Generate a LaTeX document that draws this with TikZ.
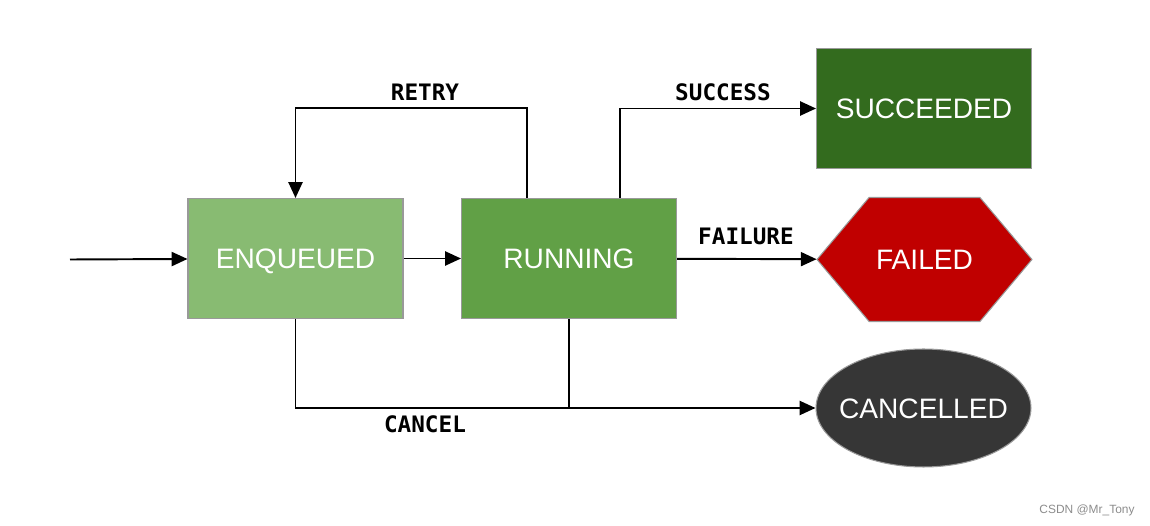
\documentclass[tikz,border=0pt]{standalone}
\usepackage{fontspec}
\setmainfont{Liberation Sans}
\newfontfamily\labelfont{DejaVu Sans Mono}
\usetikzlibrary{arrows.meta,positioning,shapes.geometric,shapes.symbols}

\definecolor{enqgreen}{HTML}{88BB72}
\definecolor{rungreen}{HTML}{61A046}
\definecolor{sucgreen}{HTML}{336B1E}
\definecolor{failred}{HTML}{C00000}
\definecolor{cancgray}{HTML}{363636}

\begin{document}
\begin{tikzpicture}[
  x=0.02cm,
  y=-0.02cm,
  font=\fontsize{16}{18}\selectfont,
  >={Triangle[length=9pt,width=8pt]},
  flow/.style={->, line width=1.1pt, draw=black},
  link/.style={line width=1.1pt, draw=black},
  state/.style={draw=black!40, line width=0.6pt, text=white,
    minimum width=4.3cm, minimum height=2.4cm, inner sep=0pt,
    text height=11.5pt, text depth=0pt},
  boxstate/.style={state, rectangle},
  trans/.style={font=\labelfont\bfseries\fontsize{12.9}{15}\selectfont, text=black}
]
\useasboundingbox (0,0) rectangle (1150,526);

% States of a work item.
\coordinate (start) at (70,259.5);
\node[boxstate, fill=enqgreen] (enq) at (295.5,258.5) {ENQUEUED};
\node[boxstate, fill=rungreen] (run) at (569,258.5) {RUNNING};
\node[boxstate, fill=sucgreen] (succ) at (924,108.5) {SUCCEEDED};
\node[state, signal, signal to=west and east, signal pointer angle=100,
  fill=failred, minimum height=2.48cm] (fail) at (924.5,259.5) {FAILED};
\node[state, ellipse, fill=cancgray, minimum height=2.36cm,
  inner xsep=-0.2cm] (canc) at (923.5,408) {CANCELLED};

% Transitions.
\draw[flow] (start) -- (enq);
\draw[flow] (enq) -- (run);
\draw[flow] ([xshift=-0.84cm]run.north) -- ++(0,-90) -| (enq.north);
\node[trans] (retrylbl) at (425,92) {RETRY};
\draw[flow] ([xshift=1.02cm]run.north) |- (succ.west);
\node[trans] (successlbl) at (723,92) {SUCCESS};
\draw[flow] (run) -- (fail);
\node[trans] (failurelbl) at (746,236) {FAILURE};
\draw[flow] (enq.south) |- (canc.west);
\draw[link] (run.south) -- (run.south |- canc.west);
\node[trans] (cancellbl) at (425,424) {CANCEL};

\node[font=\fontsize{6.8}{8}\selectfont, text=black!45] (mark)
  at (1087,510) {CSDN @Mr\_Tony};
\end{tikzpicture}
\end{document}
